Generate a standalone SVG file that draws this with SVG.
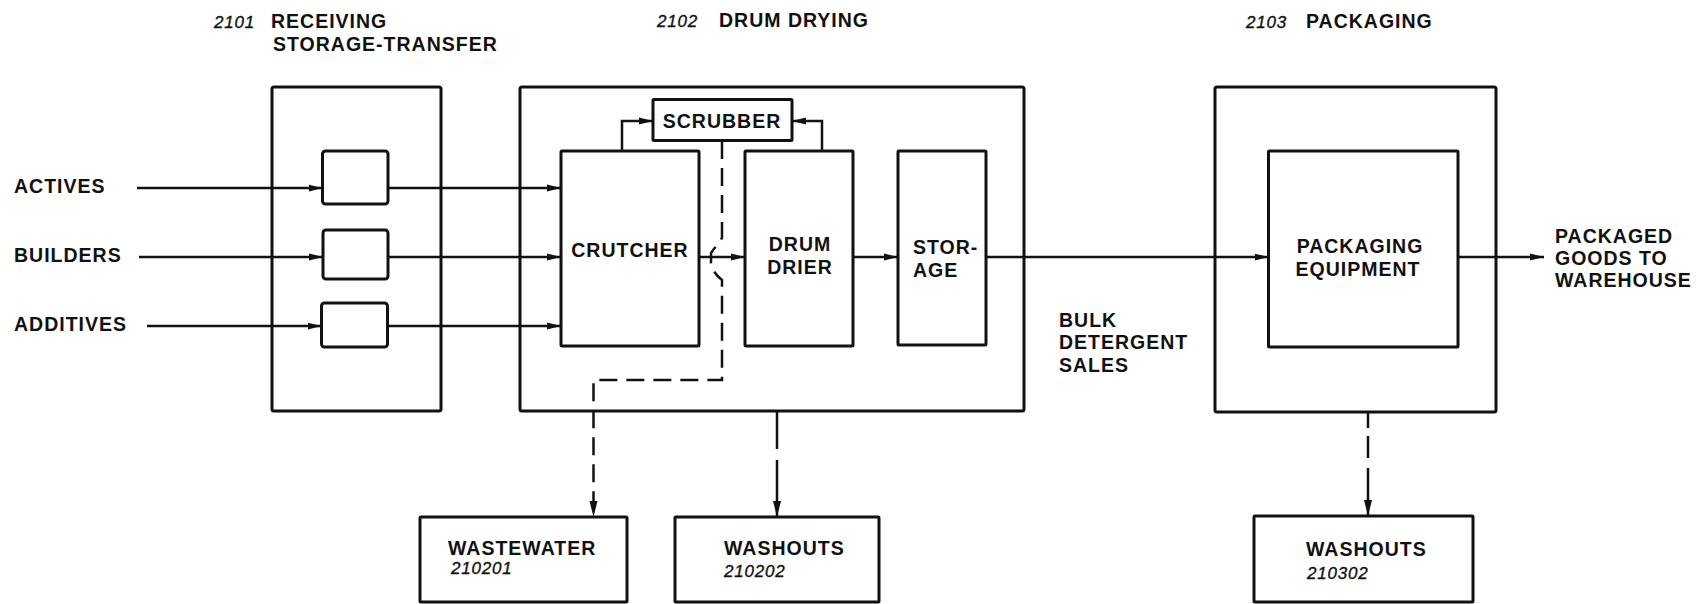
<svg xmlns="http://www.w3.org/2000/svg" width="1696" height="604" viewBox="0 0 1696 604">
<style>
.bx{fill:none;stroke:#111;stroke-width:3;stroke-linejoin:round}
.ln{fill:none;stroke:#111;stroke-width:2.5}
.ds{fill:none;stroke:#111;stroke-width:2.5;stroke-dasharray:18 9}
.t{font-family:"Liberation Sans",Arial,sans-serif;font-weight:bold;font-size:19.5px;letter-spacing:1px;fill:#111}
.n{font-family:"Liberation Sans",Arial,sans-serif;font-style:italic;font-size:17px;letter-spacing:0.8px;fill:#111;stroke:#111;stroke-width:0.35}
.m{text-anchor:middle}
</style>
<defs>
<marker id="ah" viewBox="0 0 14 8" refX="14" refY="4" markerWidth="14" markerHeight="8" markerUnits="userSpaceOnUse" orient="auto">
<path d="M0,0.5 L14,4 L0,7.5 z" fill="#111" stroke="none"/>
</marker>
<marker id="av" viewBox="0 0 16 9" refX="16" refY="4.5" markerWidth="16" markerHeight="9" markerUnits="userSpaceOnUse" orient="auto">
<path d="M0,0.5 L16,4.5 L0,8.5 z" fill="#111" stroke="none"/>
</marker>
</defs>

<g id="titles">
<text class="n" x="214" y="28">2101</text>
<text class="t" x="271" y="28">RECEIVING</text>
<text class="t" x="273" y="51">STORAGE-TRANSFER</text>
<text class="n" x="657" y="27">2102</text>
<text class="t" x="719" y="27">DRUM DRYING</text>
<text class="n" x="1246" y="28">2103</text>
<text class="t" x="1306" y="28">PACKAGING</text>
</g>

<g id="inputs">
<text class="t" x="14" y="193">ACTIVES</text>
<text class="t" x="14" y="262">BUILDERS</text>
<text class="t" x="14" y="331">ADDITIVES</text>
</g>

<g id="area2101"><rect class="bx" x="272" y="87" width="169" height="324" rx="2"/></g>
<g id="box-actives"><rect class="bx" x="322.5" y="151" width="65.5" height="53" rx="3"/></g>
<g id="box-builders"><rect class="bx" x="323" y="230" width="65" height="49" rx="3"/></g>
<g id="box-additives"><rect class="bx" x="321.5" y="303" width="66" height="44" rx="3"/></g>

<g id="area2102"><rect class="bx" x="520" y="87" width="504" height="324" rx="2"/></g>
<g id="scrubber"><rect class="bx" x="653" y="99.5" width="139" height="41" rx="1"/>
<text class="t m" x="722" y="128">SCRUBBER</text></g>
<g id="crutcher"><rect class="bx" x="561" y="151" width="138" height="195" rx="1"/>
<text class="t m" x="630" y="257">CRUTCHER</text></g>
<g id="drumdrier"><rect class="bx" x="745" y="151" width="108" height="195" rx="1"/>
<text class="t m" x="800" y="251">DRUM</text>
<text class="t m" x="800" y="274">DRIER</text></g>
<g id="storage"><rect class="bx" x="898" y="151" width="88" height="194" rx="1"/>
<text class="t" x="913" y="254">STOR-</text>
<text class="t" x="913" y="277">AGE</text></g>

<g id="area2103"><rect class="bx" x="1215" y="87" width="281" height="325" rx="2"/></g>
<g id="packaging"><rect class="bx" x="1268.5" y="151" width="189.5" height="196" rx="1"/>
<text class="t m" x="1360" y="253">PACKAGING</text>
<text class="t m" x="1358" y="276">EQUIPMENT</text></g>

<g id="outputs">
<text class="t" x="1555" y="243">PACKAGED</text>
<text class="t" x="1555" y="265">GOODS TO</text>
<text class="t" x="1555" y="287">WAREHOUSE</text>
<text class="t" x="1059" y="327">BULK</text>
<text class="t" x="1059" y="349">DETERGENT</text>
<text class="t" x="1059" y="372">SALES</text>
</g>

<g id="wastewater"><rect class="bx" x="420" y="517" width="207" height="85" rx="1"/>
<text class="t" x="448" y="555">WASTEWATER</text>
<text class="n" x="451" y="574">210201</text></g>
<g id="washouts-210202"><rect class="bx" x="675" y="517" width="204" height="85" rx="1"/>
<text class="t" x="724" y="555">WASHOUTS</text>
<text class="n" x="724" y="577">210202</text></g>
<g id="washouts-210302"><rect class="bx" x="1254" y="516" width="219" height="86" rx="1"/>
<text class="t" x="1306" y="556">WASHOUTS</text>
<text class="n" x="1307" y="579">210302</text></g>

<g id="connectors">
<line class="ln" x1="137" y1="188" x2="322.5" y2="188" marker-end="url(#ah)"/>
<line class="ln" x1="139" y1="257" x2="323" y2="257" marker-end="url(#ah)"/>
<line class="ln" x1="147" y1="326" x2="321.5" y2="326" marker-end="url(#ah)"/>
<line class="ln" x1="388" y1="188" x2="561" y2="188" marker-end="url(#ah)"/>
<line class="ln" x1="388" y1="257" x2="561" y2="257" marker-end="url(#ah)"/>
<line class="ln" x1="387.5" y1="326" x2="561" y2="326" marker-end="url(#ah)"/>
<path class="ln" d="M622,151 V121 H653" marker-end="url(#ah)"/>
<path class="ln" d="M822,151 V121 H792" marker-end="url(#ah)"/>
<line class="ln" x1="699" y1="257" x2="745" y2="257" marker-end="url(#ah)"/>
<line class="ln" x1="853" y1="257" x2="898" y2="257" marker-end="url(#ah)"/>
<line class="ln" x1="986" y1="257" x2="1268.5" y2="257" marker-end="url(#ah)"/>
<line class="ln" x1="1458" y1="257" x2="1544" y2="257" marker-end="url(#ah)"/>
<path class="ds" d="M722,141 V238 L711,253 V263 Q712,272 722,280 V380 H593.5 V517" marker-end="url(#av)"/>
<path class="ln" d="M777,412 V517" stroke-dasharray="37 11 200" marker-end="url(#av)"/>
<path class="ln" d="M1368,413 V516" stroke-dasharray="15 8 22 10 200" marker-end="url(#av)"/>
</g>
</svg>
